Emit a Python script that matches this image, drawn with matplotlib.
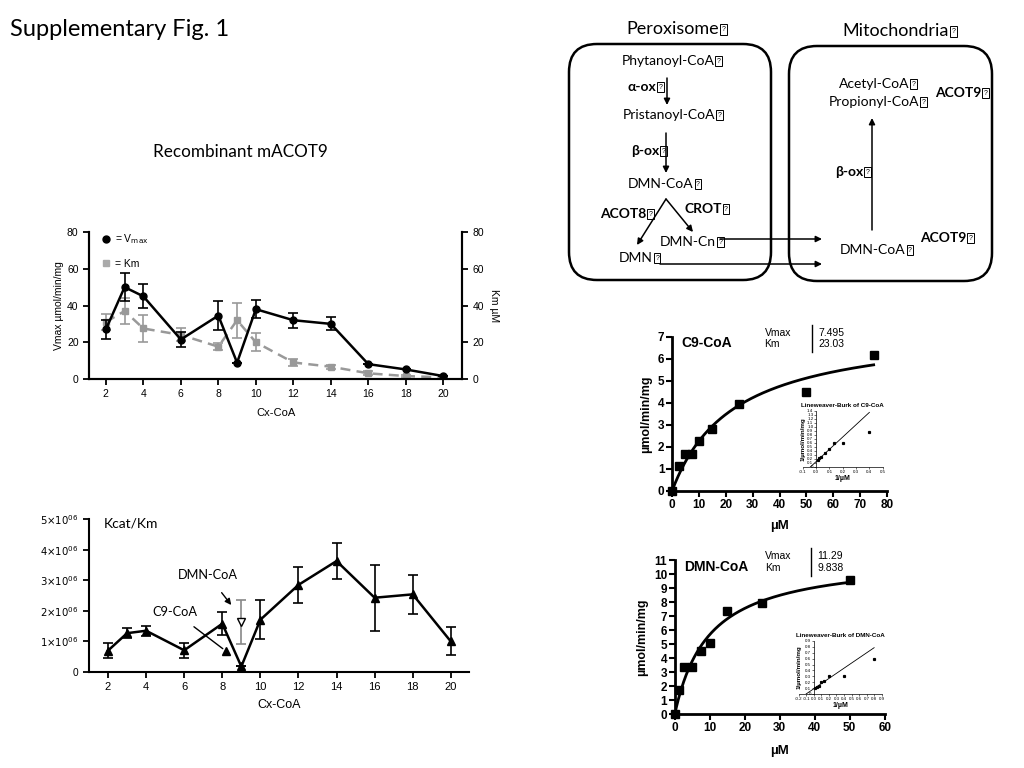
import matplotlib
matplotlib.use('Agg')
import matplotlib.pyplot as plt
from matplotlib.patches import FancyBboxPatch, Rectangle
from matplotlib.lines import Line2D
import numpy as np

plt.rcParams['font.family'] = ['Liberation Sans', 'DejaVu Sans']

# chain length data (recombinant mACOT9)
chain = [2, 3, 4, 6, 8, 9, 10, 12, 14, 16, 18, 20]
vmax = [27, 50, 45, 21.5, 34.5, 8.9, 38, 32, 30, 8.1, 5.2, 1.6]
vmax_err = [5, 7.5, 6.5, 4.3, 8, 0, 5, 4, 3.5, 0, 0, 0]
km = [31, 37, 27.5, 24, 17.6, 32, 20, 9, 6.7, 3.1, 1.6, 0.9]
km_err = [4.5, 7, 7.5, 3.5, 2, 9.5, 5, 2, 1, 1, 0.5, 0.5]

kcat_km = [0.70, 1.27, 1.35, 0.71, 1.58, 0.18, 1.71, 2.85, 3.63, 2.43, 2.54, 1.00]  # x1e6
kcat_km_err = [0.24, 0.16, 0.17, 0.25, 0.37, 0, 0.64, 0.6, 0.6, 1.08, 0.64, 0.46]
c9_x, c9_y = 8.2, 0.68
dmn_x, dmn_y, dmn_err = 9, 1.65, 0.72

# Michaelis-Menten data
c9_s = [0, 2.5, 5, 7.5, 10, 15, 25, 50, 75]
c9_v = [0, 1.14, 1.70, 1.70, 2.27, 2.83, 3.95, 4.52, 6.2]
c9_vmax, c9_km = 7.495, 23.03
dmn_s = [0, 1.25, 2.5, 5, 7.5, 10, 15, 25, 50]
dmn_v = [0, 1.69, 3.37, 3.37, 4.53, 5.06, 7.35, 7.95, 9.62]
dmn_vmax, dmn_km = 11.29, 9.838

CAL = ['Lato', 'DejaVu Sans']

fig = plt.figure(figsize=(10.24, 7.68), dpi=100)

# overlay in pixel coords for texts / diagram
ax0 = fig.add_axes([0, 0, 1, 1], zorder=-1)
ax0.set_xlim(0, 1024)
ax0.set_ylim(768, 0)
ax0.axis('off')

ax0.text(10, 30, 'Supplementary Fig. 1', fontsize=17, family=CAL, va='center')
ax0.text(240, 152, 'Recombinant mACOT9', fontsize=12.3, family=CAL, ha='center', va='center')

# ---- pathway diagram ----
# the source slide shows a missing-glyph box after each label; drawn as a shape below
tofu = []
for x0, y0, w, h in [(569, 44, 202, 236), (789, 46, 203, 235)]:
    ax0.add_patch(FancyBboxPatch((x0, y0), w, h, boxstyle='round,pad=0,rounding_size=28',
                                 fill=False, lw=1.8, ec='k'))
tofu.append(ax0.text(673, 29, 'Peroxisome', fontsize=13, family=CAL, ha='center', va='center'))
tofu.append(ax0.text(896, 31, 'Mitochondria', fontsize=13, family=CAL, ha='center', va='center'))

labels = [
    (668, 61, 'Phytanoyl-CoA', 'normal'),
    (642, 87, '\u03b1-ox', 'bold'),
    (669, 115, 'Pristanoyl-CoA', 'normal'),
    (645, 151, '\u03b2-ox', 'bold'),
    (661, 184, 'DMN-CoA', 'normal'),
    (623, 214, 'ACOT8', 'bold'),
    (703, 209, 'CROT', 'bold'),
    (688, 242, 'DMN-Cn', 'normal'),
    (636, 258, 'DMN', 'normal'),
    (873, 250, 'DMN-CoA', 'normal'),
    (943, 238, 'ACOT9', 'bold'),
    (849, 172, '\u03b2-ox', 'bold'),
    (874, 84, 'Acetyl-CoA', 'normal'),
    (874, 102, 'Propionyl-CoA', 'normal'),
    (958, 93, 'ACOT9', 'bold'),
]
for x, y, s, wt in labels:
    tofu.append(ax0.text(x, y, s, fontsize=10, family=CAL, fontweight=wt,
                         ha='center', va='center'))

arrows = [
    ((667, 78), (667, 105)),
    ((666, 133), (666, 173)),
    ((666, 199), (637, 245)),
    ((666, 199), (693, 232)),
    ((720, 239), (822, 239)),
    ((660, 264), (822, 264)),
    ((872, 230), (872, 118)),
]
for (xa, ya), (xb, yb) in arrows:
    ax0.annotate('', xy=(xb, yb), xytext=(xa, ya),
                 arrowprops=dict(arrowstyle='-|>', color='k', lw=1.1, mutation_scale=9,
                                 shrinkA=0, shrinkB=0))

# ---- Vmax / Km vs chain length ----
ax1 = fig.add_axes([0.0869, 0.5065, 0.3643, 0.1914])
ax1b = ax1.twinx()
ax1.errorbar(chain, vmax, yerr=vmax_err, color='k', marker='o', ms=5, lw=1.8,
             capsize=3.5, elinewidth=1.2, capthick=1.2, zorder=3)
ax1b.errorbar(chain, km, yerr=km_err, color='#999999', marker='s', ms=5, lw=1.8, ls='--',
              capsize=3.5, elinewidth=1.2, capthick=1.2, dashes=(4, 2.5))
for a in (ax1, ax1b):
    a.set_ylim(0, 80)
    a.set_yticks([0, 20, 40, 60, 80])
    a.set_xlim(1.1, 21)
    a.spines['top'].set_visible(False)
    for sp in a.spines.values():
        sp.set_linewidth(1.5)
    a.tick_params(width=1.3, length=4, labelsize=7.5)
ax1.set_zorder(ax1b.get_zorder() + 1)
ax1.patch.set_visible(False)
ax1.set_xticks(range(2, 21, 2))
ax1.set_ylabel('Vmax \u00b5mol/min/mg', fontsize=7.5, labelpad=2)
ax1b.set_ylabel('Km \u00b5M', fontsize=7.5, rotation=270, labelpad=11)
ax1.set_xlabel('Cx-CoA', fontsize=8, labelpad=6)
handles = [Line2D([], [], color='k', marker='o', ls='', ms=5),
           Line2D([], [], color='#aaaaaa', marker='s', ls='', ms=5)]
ax1.legend(handles, ['= V$_{\\rm max}$', '= Km'], loc='upper left', bbox_to_anchor=(0.01, 1.06),
           frameon=False, fontsize=7.5, handlelength=0.8, handletextpad=0.4, labelspacing=1.2)

# ---- kcat/Km ----
ax3 = fig.add_axes([0.0869, 0.125, 0.371, 0.199])
ax3.errorbar(chain, kcat_km, yerr=kcat_km_err, color='k', marker='^', ms=6, lw=1.8,
             capsize=3.5, elinewidth=1.2, capthick=1.2)
ax3.plot([c9_x], [c9_y], marker='^', color='k', ms=6, ls='')
ax3.errorbar([dmn_x], [dmn_y], yerr=[dmn_err], color='#888888', marker='v', mfc='white',
             mec='k', ms=6, capsize=3.5, elinewidth=1.2, capthick=1.2, ls='')
ax3.set_xlim(1.0, 20.95)
ax3.set_ylim(0, 5)
ax3.set_xticks(range(2, 21, 2))
ax3.set_yticks(range(6))
ax3.set_yticklabels(['0'] + ['$%d{\\times}10^{06}$' % i for i in range(1, 6)])
for s in ('top', 'right'):
    ax3.spines[s].set_visible(False)
for sp in ax3.spines.values():
    sp.set_linewidth(1.5)
ax3.tick_params(width=1.3, length=4, labelsize=8)
ax3.tick_params(axis='y', labelsize=7.3)
ax3.set_xlabel('Cx-CoA', fontsize=9, labelpad=5)
ax3.text(0.04, 0.97, 'Kcat/Km', transform=ax3.transAxes, fontsize=10, family=CAL, va='center')
ax3.annotate('DMN-CoA', xy=(8.56, 2.12), xytext=(7.25, 3.17), fontsize=9.2, family=CAL,
             ha='center', va='center',
             arrowprops=dict(arrowstyle='-|>', color='k', lw=1, mutation_scale=9, shrinkA=8))
ax3.annotate('C9-CoA', xy=(c9_x, c9_y), xytext=(5.5, 1.96), fontsize=9.2, family=CAL,
             ha='center', va='center',
             arrowprops=dict(arrowstyle='-', color='k', lw=1, shrinkA=7, shrinkB=3))


def mm_panel(rect, s, v, vm, kmv, xmax, ymax, xstep, title, inset_rect, inset_title,
             ix, iy, xlabelpad):
    ax = fig.add_axes(rect)
    xs = np.linspace(0, max(s), 200)
    ax.plot(xs, vm * xs / (kmv + xs), color='k', lw=2)
    ax.plot(s, v, 's', color='k', ms=5.5, clip_on=False)
    ax.set_xlim(0, xmax)
    ax.set_ylim(0, ymax)
    ax.set_xticks(np.arange(0, xmax + 1, xstep))
    ax.set_yticks(range(ymax + 1))
    for sp in ('top', 'right'):
        ax.spines[sp].set_visible(False)
    for sp in ('left', 'bottom'):
        ax.spines[sp].set_linewidth(2)
    ax.tick_params(width=1.5, length=4, labelsize=8.5, pad=1.5)
    for lab in ax.get_xticklabels() + ax.get_yticklabels():
        lab.set_fontweight('bold')
    ax.set_ylabel('\u00b5mol/min/mg', fontsize=9, fontweight='bold', labelpad=4)
    ax.set_xlabel('\u00b5M', fontsize=9.5, fontweight='bold', labelpad=xlabelpad)
    ax.text(0.045, 0.96, title, transform=ax.transAxes, fontsize=10, fontweight='bold', va='center')
    ax.text(0.43, 0.99, 'Vmax\nKm', transform=ax.transAxes, fontsize=7.5, va='center',
            linespacing=1.2)
    ax.text(0.68, 0.99, '%s\n%s' % (vm, kmv), transform=ax.transAxes, fontsize=7.5,
            va='center', linespacing=1.2)
    ax.plot([0.65, 0.65], [0.90, 1.08], transform=ax.transAxes, color='k', lw=1, clip_on=False)

    # Lineweaver-Burk inset
    ia = fig.add_axes(inset_rect)
    inv_s = 1 / np.array(s[1:], dtype=float)
    inv_v = 1 / np.array(v[1:], dtype=float)
    lx = np.array([-1 / kmv, inv_s.max()])
    ia.plot(lx, kmv / vm * lx + 1 / vm, color='k', lw=0.6)
    ia.plot(inv_s, inv_v, 's', color='k', ms=1.3)
    ia.set_xlim(ix[0], ix[-1])
    ia.set_ylim(iy[0], iy[-1])
    ia.set_xticks(ix)
    ia.set_yticks(iy)
    ia.set_xticklabels(['%.1f' % t for t in ix])
    ia.set_yticklabels(['0'] + ['%.1f' % t for t in iy[1:]])
    ia.spines['left'].set_position(('data', 0))
    for sp in ('top', 'right'):
        ia.spines[sp].set_visible(False)
    for sp in ('left', 'bottom'):
        ia.spines[sp].set_linewidth(0.5)
    ia.patch.set_visible(False)
    ia.tick_params(width=0.4, length=1.2, labelsize=3.2, pad=0.8)
    ia.set_title(inset_title, fontsize=4.5, fontweight='bold', pad=3)
    ia.set_xlabel('1/\u00b5M', fontsize=5, fontweight='bold', labelpad=1)
    ia.set_ylabel('1/\u00b5mol/min/mg', fontsize=4.5, fontweight='bold', labelpad=1)
    ia.yaxis.set_label_coords(0.03, 0.5)
    return ax


mm_panel([0.6563, 0.3607, 0.21, 0.2005], c9_s, c9_v, c9_vmax, c9_km, 80, 7, 10, 'C9-CoA',
         [0.784, 0.392, 0.078, 0.073], 'Lineweaver-Burk of C9-CoA',
         np.round(np.arange(-0.1, 0.51, 0.1), 1), np.round(np.arange(0, 1.41, 0.1), 1), 7)
mm_panel([0.659, 0.0703, 0.205, 0.2], dmn_s, dmn_v, dmn_vmax, dmn_km, 60, 11, 10, 'DMN-CoA',
         [0.780, 0.0964, 0.081, 0.069], 'Lineweaver-Burk of DMN-CoA',
         np.round(np.arange(-0.2, 0.91, 0.1), 1), np.round(np.arange(0, 0.91, 0.1), 1), 8)

# missing-glyph boxes after the diagram labels
fig.canvas.draw()
renderer = fig.canvas.get_renderer()
inv = ax0.transData.inverted()
for t in tofu:
    bb = t.get_window_extent(renderer)
    xr, _ = inv.transform((bb.x1, bb.y0))
    y = t.get_position()[1]
    h = 11 if t.get_fontsize() > 11 else 10
    ax0.add_patch(Rectangle((xr + 1, y - h / 2), 6.5, h, fill=False, lw=0.7, ec='k'))
    ax0.text(xr + 4.25, y + 0.5, '?', fontsize=5, ha='center', va='center')

fig.savefig('out.png', dpi=100)
